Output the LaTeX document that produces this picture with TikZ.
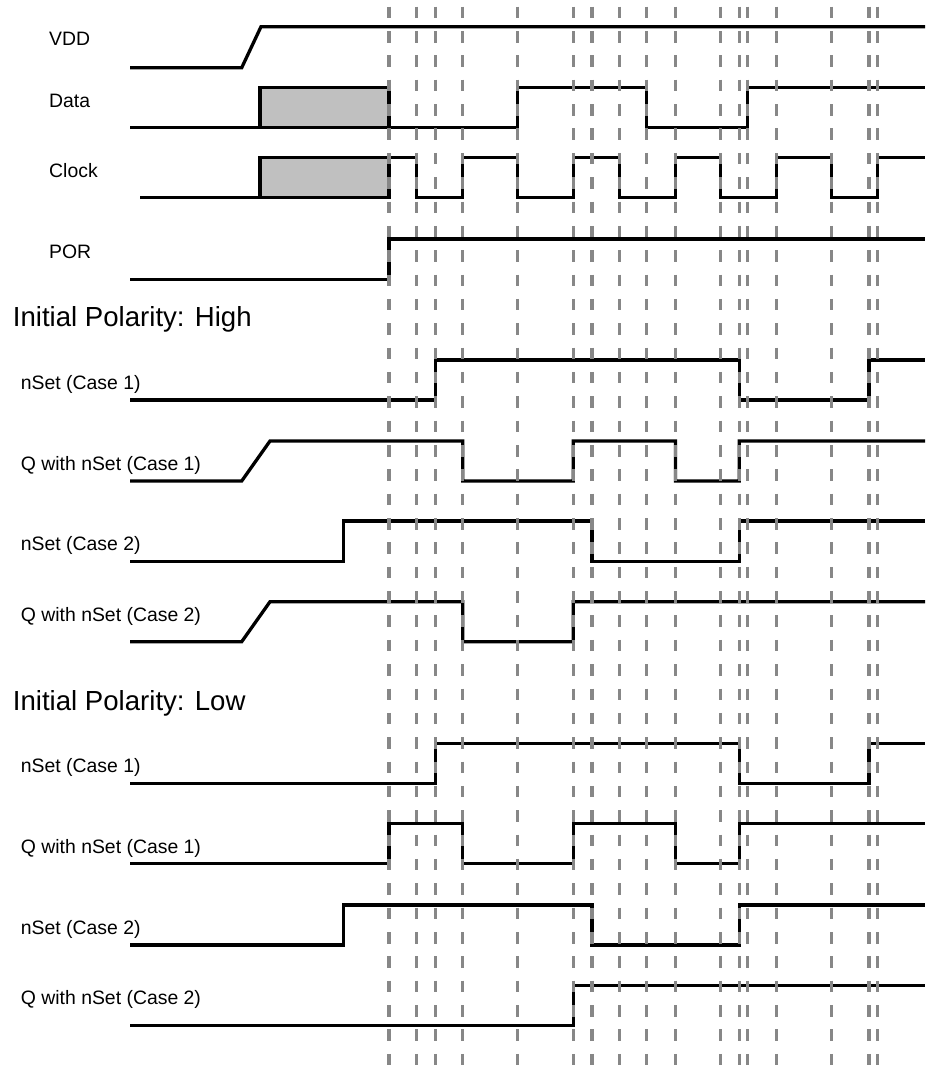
\documentclass[tikz,border=0pt]{standalone}
\usepackage{fontspec}
\setmainfont{Liberation Sans}
\usepackage{tikz}
\definecolor{boxgray}{RGB}{192,192,192}
\definecolor{tickgray}{RGB}{135,135,135}

\begin{document}
\begin{tikzpicture}[x=1pt,y=-1pt,
  sig/.style={line width=3.3pt},
  tick/.style={line width=3.3pt,tickgray,dash pattern=on 11.5pt off 12.85pt},
  lbl/.style={anchor=base west,inner sep=0pt,font=\fontsize{19.4}{22}\selectfont},
  head/.style={anchor=base west,inner sep=0pt,font=\fontsize{27.6}{30}\selectfont}]
  \useasboundingbox (0,0) rectangle (927,1070);

  % signal names
  \node[lbl] (vdd)   at (49,46)    {VDD};
  \node[lbl] (data)  at (49,107.3) {Data};
  \node[lbl] (clock) at (49,177.7) {Clock};
  \node[lbl] (por)   at (49,258.3) {POR};
  \node[head] (high) at (12.7,326.7) {Initial Polarity: High};
  \node[lbl] (nsetHa) at (20.7,389.3) {nSet (Case 1)};
  \node[lbl] (qHa)    at (20.7,470.7) {Q with nSet (Case 1)};
  \node[lbl] (nsetHb) at (20.7,550.7) {nSet (Case 2)};
  \node[lbl] (qHb)    at (20.7,621.7) {Q with nSet (Case 2)};
  \node[head] (low)  at (12.7,710)   {Initial Polarity: Low};
  \node[lbl] (nsetLa) at (20.7,772.7) {nSet (Case 1)};
  \node[lbl] (qLa)    at (20.7,853.3) {Q with nSet (Case 1)};
  \node[lbl] (nsetLb) at (20.7,934)   {nSet (Case 2)};
  \node[lbl] (qLb)    at (20.7,1004)  {Q with nSet (Case 2)};

  % inputs
  \draw[sig] (130,67.7) -- (241.7,67.7) -- (261,26.7) -- (925,26.7);
  \filldraw[sig,fill=boxgray] (260,127.7) rectangle (389,87.3);
  \draw[sig] (130,127.7) -| (517.7,87.3) -| (646.7,127.7) -| (747.5,87.3) -- (925,87.3);
  \filldraw[sig,fill=boxgray] (260,197.3) rectangle (389,157.3);
  \draw[sig] (140,197.3) -- (260,197.3);
  \draw[sig] (389,157.3) -| (416.7,197.3) -| (462.7,157.3) -| (517.7,197.3)
    -| (573.3,157.3) -| (619.3,197.3) -| (675.5,157.3) -| (720.7,197.3)
    -| (776.7,157.3) -| (831.7,197.3) -| (877.7,157.3) -- (925,157.3);
  \draw[sig] (130,279.3) -| (389,239) -- (925,239);

  % initial polarity high
  \draw[sig] (130,400) -| (435.7,360) -| (739.3,400) -| (869,360) -- (925,360);
  \draw[sig] (130,481) -- (241.7,481) -- (270,441) -| (462.7,481) -| (573.3,441)
    -| (675.5,481) -| (739.3,441) -- (925,441);
  \draw[sig] (130,561.7) -| (343.3,521) -| (592,561.7) -| (739.3,521) -- (925,521);
  \draw[sig] (130,641.7) -- (241.7,641.7) -- (270,601.7) -| (462.7,641.7)
    -| (573.3,601.7) -- (925,601.7);

  % initial polarity low
  \draw[sig] (130,783.3) -| (435.7,743.3) -| (739.3,783.3) -| (869,743.3) -- (925,743.3);
  \draw[sig] (130,863.3) -| (389,823.3) -| (462.7,863.3) -| (573.3,823.3)
    -| (675.5,863.3) -| (739.3,823.3) -- (925,823.3);
  \draw[sig] (130,945) -| (343.3,905) -| (592,945) -| (739.3,905) -- (925,905);
  \draw[sig] (130,1025.7) -| (573.3,985.7) -- (925,985.7);

  % time marks
  \foreach \t in {389,416.7,435.7,462.7,517.7,573.3,592,619.3,646.7,675.5,
                  720.7,739.3,747.5,776.7,831.7,869,877.7}
    \draw[tick] (\t,6.7) -- (\t,1067);
\end{tikzpicture}
\end{document}
